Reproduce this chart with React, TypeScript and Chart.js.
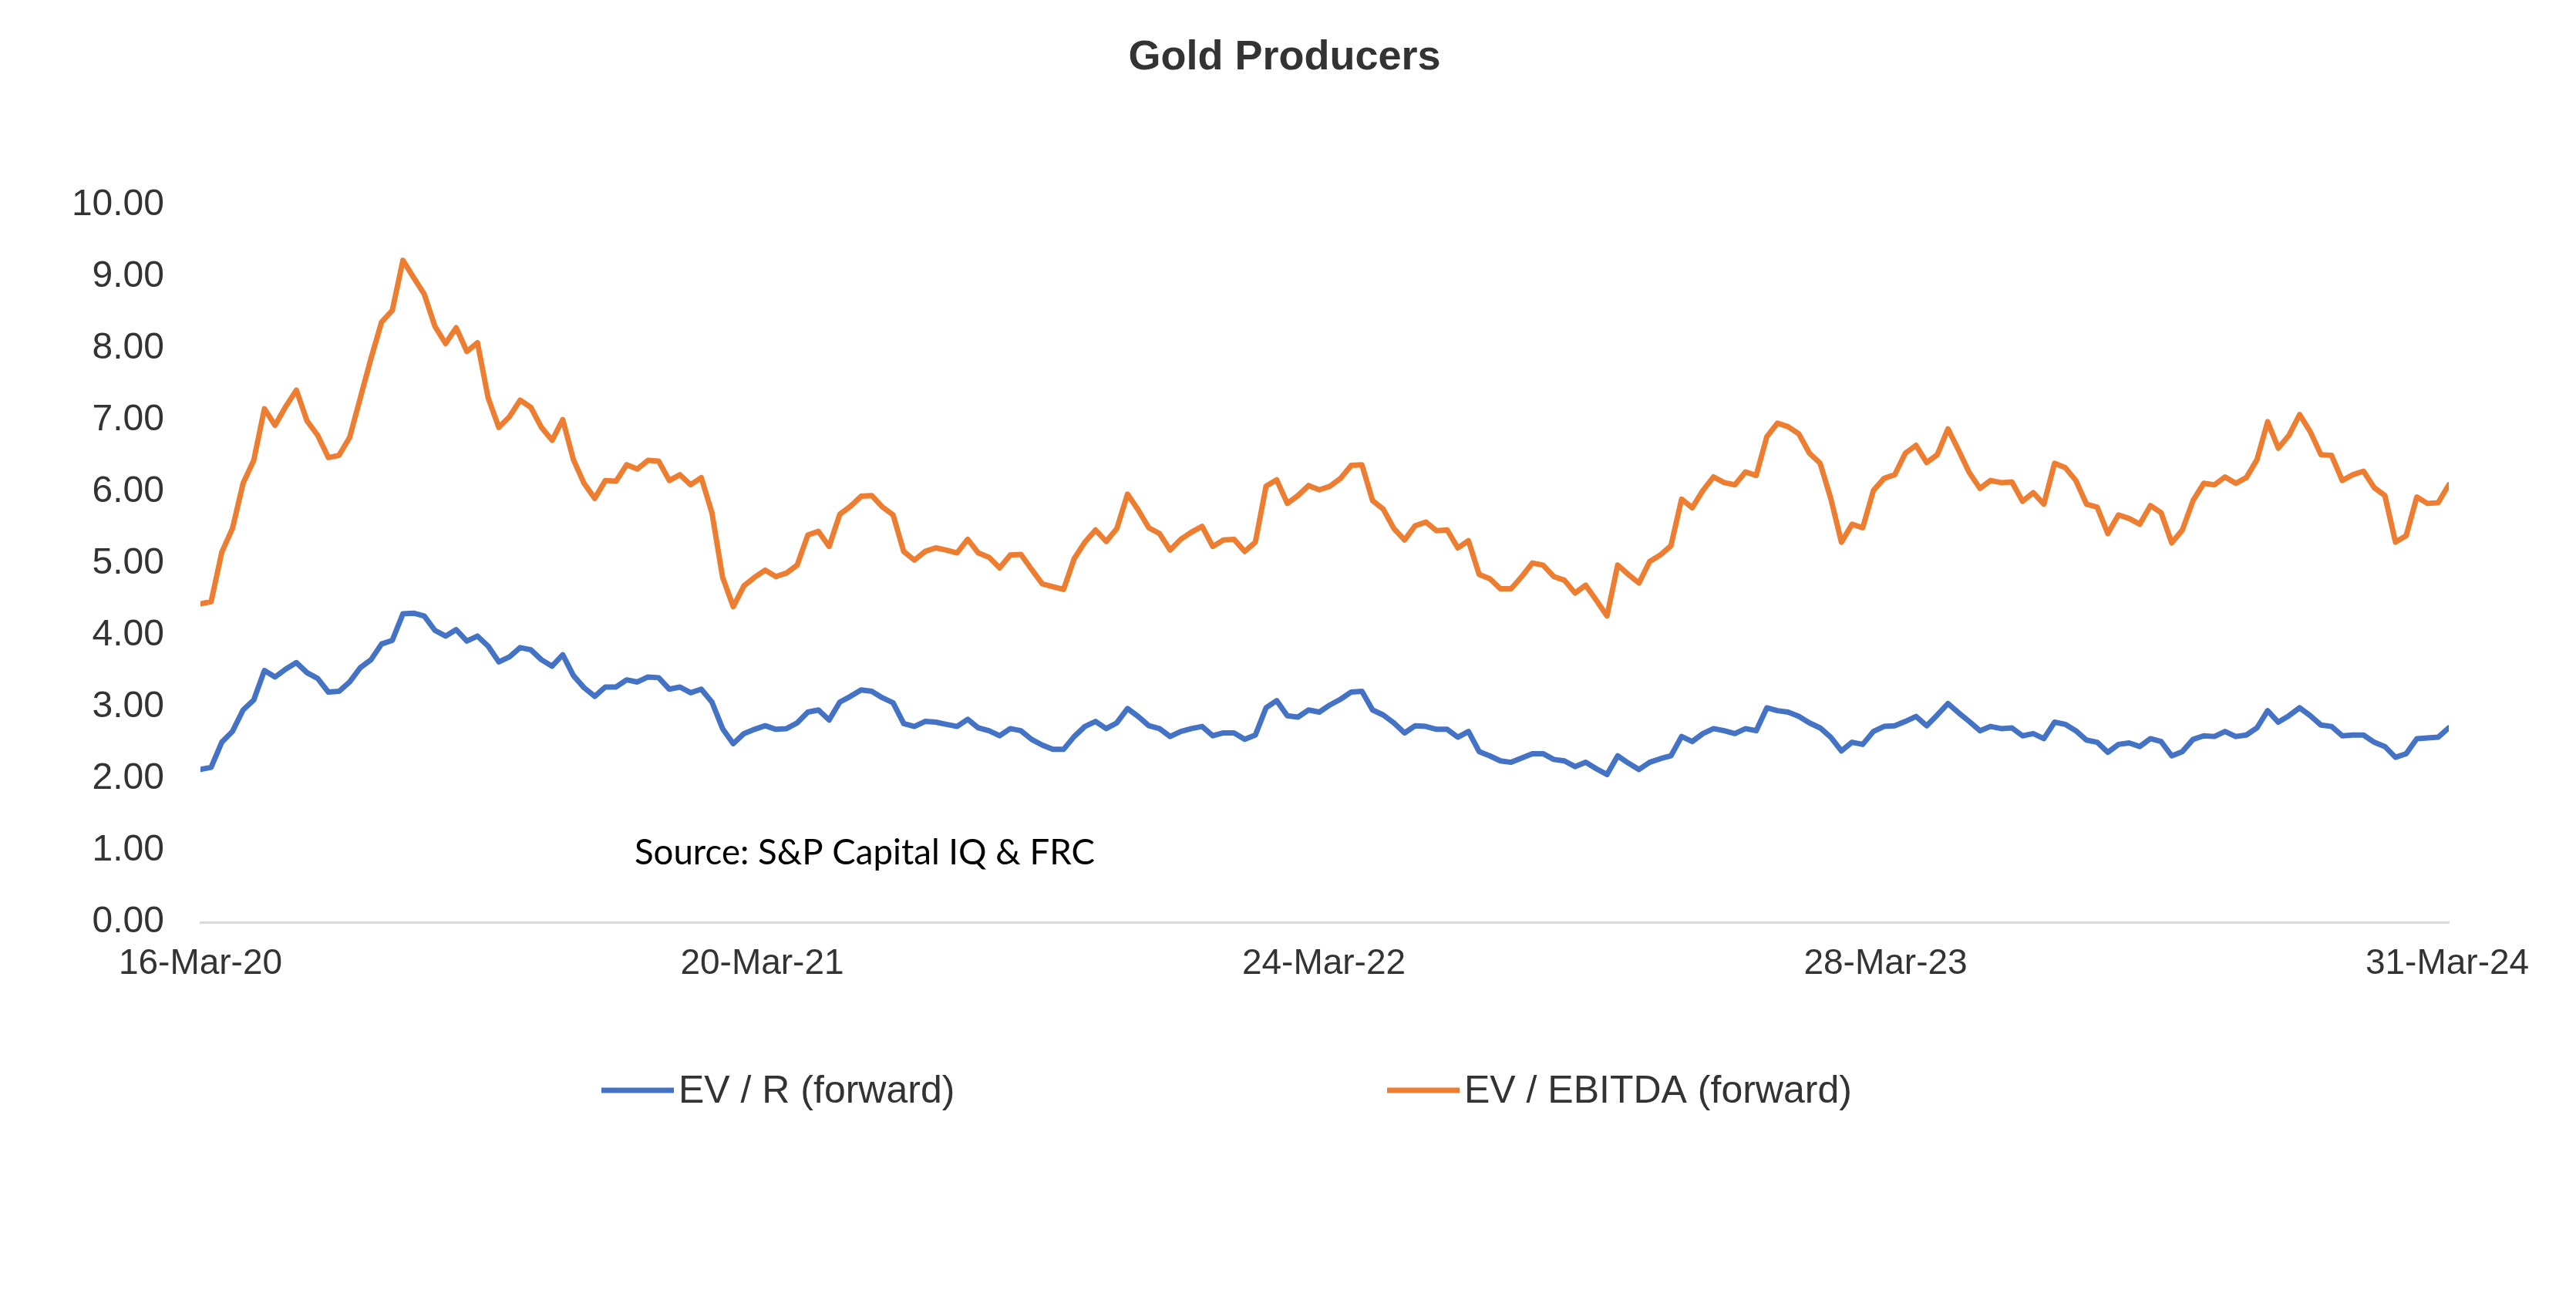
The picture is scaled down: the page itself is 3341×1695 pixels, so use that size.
import React, { useEffect, useRef } from 'react';
import { Chart, registerables } from 'chart.js';

Chart.register(...registerables);

const chartTitle = 'Gold Producers';
const sourceNote = 'Source: S&P Capital IQ & FRC';
const seriesNames = ['EV / R (forward)', 'EV / EBITDA (forward)'];
const seriesColors = ['#4472C4', '#ED7D31'];

// weekly observations, x = days since 16-Mar-20
const weekStepDays = 7;
const xTickDays = [0, 369, 738, 1107, 1476];
const xTickLabels = ['16-Mar-20', '20-Mar-21', '24-Mar-22', '28-Mar-23', '31-Mar-24'];
const yTickValues = [0, 1, 2, 3, 4, 5, 6, 7, 8, 9, 10];

const evRevenue = [
  2.13, 2.16, 2.51, 2.66, 2.96, 3.10, 3.51, 3.42, 3.53, 3.62,
  3.48, 3.40, 3.21, 3.22, 3.35, 3.55, 3.66, 3.88, 3.93, 4.30,
  4.31, 4.27, 4.07, 3.99, 4.08, 3.92, 3.99, 3.85, 3.63, 3.70,
  3.83, 3.80, 3.66, 3.57, 3.73, 3.44, 3.27, 3.15, 3.28, 3.28,
  3.38, 3.35, 3.42, 3.41, 3.25, 3.28, 3.20, 3.25, 3.07, 2.70,
  2.49, 2.63, 2.69, 2.74, 2.69, 2.70, 2.78, 2.93, 2.96, 2.82,
  3.07, 3.15, 3.24, 3.22, 3.13, 3.06, 2.77, 2.73, 2.80, 2.79,
  2.76, 2.73, 2.83, 2.71, 2.67, 2.60, 2.70, 2.67, 2.55, 2.47,
  2.41, 2.41, 2.59, 2.73, 2.80, 2.70, 2.78, 2.98, 2.87, 2.74,
  2.70, 2.59, 2.66, 2.70, 2.73, 2.60, 2.64, 2.64, 2.55, 2.61,
  2.99, 3.09, 2.88, 2.86, 2.96, 2.93, 3.03, 3.11, 3.21, 3.22,
  2.96, 2.89, 2.78, 2.64, 2.74, 2.73, 2.69, 2.69, 2.58, 2.66,
  2.38, 2.32, 2.25, 2.23, 2.29, 2.35, 2.35, 2.27, 2.25, 2.17,
  2.23, 2.14, 2.06, 2.32, 2.22, 2.13, 2.23, 2.28, 2.32, 2.59,
  2.52, 2.63, 2.70, 2.67, 2.63, 2.70, 2.67, 2.99, 2.95, 2.93,
  2.87, 2.78, 2.71, 2.58, 2.39, 2.51, 2.48, 2.66, 2.73, 2.74,
  2.80, 2.87, 2.74, 2.89, 3.05, 2.92, 2.80, 2.67, 2.73, 2.70,
  2.71, 2.60, 2.63, 2.56, 2.79, 2.76, 2.67, 2.54, 2.51, 2.37,
  2.48, 2.50, 2.45, 2.56, 2.52, 2.32, 2.38, 2.55, 2.60, 2.59,
  2.66, 2.59, 2.61, 2.71, 2.95, 2.79, 2.88, 2.99, 2.88, 2.75,
  2.73, 2.60, 2.61, 2.61, 2.51, 2.45, 2.30, 2.35, 2.56, 2.57,
  2.58, 2.71,
];

const evEbitda = [
  4.44, 4.47, 5.16, 5.49, 6.12, 6.44, 7.16, 6.93, 7.19, 7.42,
  6.99, 6.79, 6.48, 6.51, 6.76, 7.31, 7.86, 8.37, 8.53, 9.23,
  8.99, 8.76, 8.31, 8.07, 8.29, 7.96, 8.08, 7.31, 6.90, 7.05,
  7.28, 7.18, 6.90, 6.72, 7.01, 6.45, 6.12, 5.91, 6.16, 6.15,
  6.38, 6.32, 6.44, 6.43, 6.16, 6.24, 6.10, 6.20, 5.71, 4.81,
  4.40, 4.69, 4.81, 4.91, 4.82, 4.87, 4.98, 5.40, 5.45, 5.24,
  5.69, 5.80, 5.94, 5.95, 5.79, 5.68, 5.17, 5.05, 5.17, 5.22,
  5.19, 5.15, 5.34, 5.15, 5.09, 4.94, 5.12, 5.13, 4.92, 4.72,
  4.68, 4.64, 5.07, 5.30, 5.47, 5.31, 5.49, 5.97, 5.75, 5.50,
  5.42, 5.19, 5.34, 5.44, 5.52, 5.24, 5.33, 5.34, 5.17, 5.30,
  6.08, 6.17, 5.84, 5.95, 6.09, 6.03, 6.08, 6.19, 6.37, 6.38,
  5.88, 5.76, 5.49, 5.33, 5.53, 5.58, 5.46, 5.47, 5.22, 5.32,
  4.85, 4.79, 4.65, 4.65, 4.82, 5.01, 4.98, 4.82, 4.77, 4.59,
  4.70, 4.49, 4.27, 4.98, 4.85, 4.73, 5.03, 5.12, 5.25, 5.90,
  5.78, 6.02, 6.21, 6.13, 6.10, 6.28, 6.23, 6.77, 6.96, 6.91,
  6.81, 6.54, 6.40, 5.91, 5.30, 5.55, 5.50, 6.02, 6.19, 6.24,
  6.54, 6.65, 6.41, 6.52, 6.88, 6.58, 6.27, 6.05, 6.16, 6.13,
  6.14, 5.87, 5.99, 5.83, 6.40, 6.34, 6.16, 5.83, 5.79, 5.42,
  5.68, 5.63, 5.55, 5.81, 5.71, 5.29, 5.47, 5.88, 6.12, 6.10,
  6.21, 6.12, 6.20, 6.45, 6.98, 6.61, 6.79, 7.08, 6.84, 6.52,
  6.51, 6.16, 6.24, 6.29, 6.06, 5.95, 5.30, 5.39, 5.93, 5.84,
  5.85, 6.10,
];

const FONT = '"Liberation Sans", Arial, Helvetica, sans-serif';
const TEXT_COLOR = '#333333';

const decorPlugin = {
  id: 'decor',
  afterDraw(chart: any) {
    const ctx = chart.ctx as CanvasRenderingContext2D;
    ctx.save();
    // title
    ctx.fillStyle = TEXT_COLOR;
    ctx.font = `bold 54px ${FONT}`;
    ctx.textAlign = 'center';
    ctx.textBaseline = 'alphabetic';
    ctx.fillText(chartTitle, 1666, 90);

    // legend
    const legendX = [780, 1799];
    const legendY = 1414;
    chart.data.datasets.forEach((ds: any, i: number) => {
      ctx.strokeStyle = ds.borderColor;
      ctx.lineWidth = 7;
      ctx.lineCap = 'butt';
      ctx.beginPath();
      ctx.moveTo(legendX[i], legendY);
      ctx.lineTo(legendX[i] + 94, legendY);
      ctx.stroke();
      ctx.fillStyle = TEXT_COLOR;
      ctx.font = `50px ${FONT}`;
      ctx.textAlign = 'left';
      ctx.textBaseline = 'alphabetic';
      ctx.fillText(ds.label, legendX[i] + 100, legendY + 16);
    });

    // source note
    const srcFamily = 'Lato, "Open Sans", sans-serif';
    ctx.font = `100px ${srcFamily}`;
    const w100 = ctx.measureText(sourceNote).width;
    const size = Math.max(10, (597 / w100) * 100);
    ctx.font = `${size.toFixed(1)}px ${srcFamily}`;
    ctx.fillStyle = '#000000';
    ctx.textAlign = 'left';
    ctx.fillText(sourceNote, 823, 1121);
    ctx.restore();
  },
};

export default function App() {
  const canvasRef = useRef<HTMLCanvasElement | null>(null);

  useEffect(() => {
    document.body.style.margin = '0';
    const canvas = canvasRef.current;
    if (!canvas) return;
    const toPoints = (arr: number[]) => arr.map((v, i) => ({ x: i * weekStepDays, y: v }));
    const lastDay = (evRevenue.length - 1) * weekStepDays;

    const chart = new Chart(canvas, {
      type: 'line',
      data: {
        datasets: [
          {
            label: seriesNames[0],
            data: toPoints(evRevenue),
            borderColor: seriesColors[0],
            backgroundColor: seriesColors[0],
            borderWidth: 7,
            pointRadius: 0,
            tension: 0,
            borderJoinStyle: 'round',
            borderCapStyle: 'round',
          },
          {
            label: seriesNames[1],
            data: toPoints(evEbitda),
            borderColor: seriesColors[1],
            backgroundColor: seriesColors[1],
            borderWidth: 7,
            pointRadius: 0,
            tension: 0,
            borderJoinStyle: 'round',
            borderCapStyle: 'round',
          },
        ],
      },
      options: {
        responsive: false,
        animation: false,
        devicePixelRatio: 1,
        layout: { padding: { left: 0, right: 165, top: 266, bottom: 399 } },
        plugins: {
          legend: { display: false },
          title: { display: false },
          tooltip: { enabled: false },
        },
        scales: {
          x: {
            type: 'linear',
            min: 0,
            max: lastDay,
            grid: { display: false, drawTicks: false },
            border: { display: true, color: '#d9d9d9', width: 3 },
            afterBuildTicks: (axis: any) => {
              axis.ticks = xTickDays.map((v) => ({ value: v }));
            },
            afterFit: (axis: any) => {
              axis.height = 100;
            },
            ticks: {
              autoSkip: false,
              maxRotation: 0,
              minRotation: 0,
              padding: 27,
              color: TEXT_COLOR,
              font: { family: FONT, size: 46 },
              callback: (_v: any, index: number) => xTickLabels[index],
            },
          },
          y: {
            type: 'linear',
            min: yTickValues[0],
            max: yTickValues[yTickValues.length - 1],
            grid: { display: false, drawTicks: false },
            border: { display: false },
            afterBuildTicks: (axis: any) => {
              axis.ticks = yTickValues.map((v) => ({ value: v }));
            },
            afterFit: (axis: any) => {
              axis.width = 260;
            },
            ticks: {
              padding: 47,
              color: TEXT_COLOR,
              font: { family: FONT, size: 48 },
              callback: (v: any) => Number(v).toFixed(2),
            },
          },
        },
      } as any,
      plugins: [decorPlugin],
    });

    return () => {
      chart.destroy();
    };
  }, []);

  return (
    <div style={{ width: 3341, height: 1695, background: '#ffffff' }}>
      <canvas ref={canvasRef} width={3341} height={1695} style={{ display: 'block' }} />
    </div>
  );
}
